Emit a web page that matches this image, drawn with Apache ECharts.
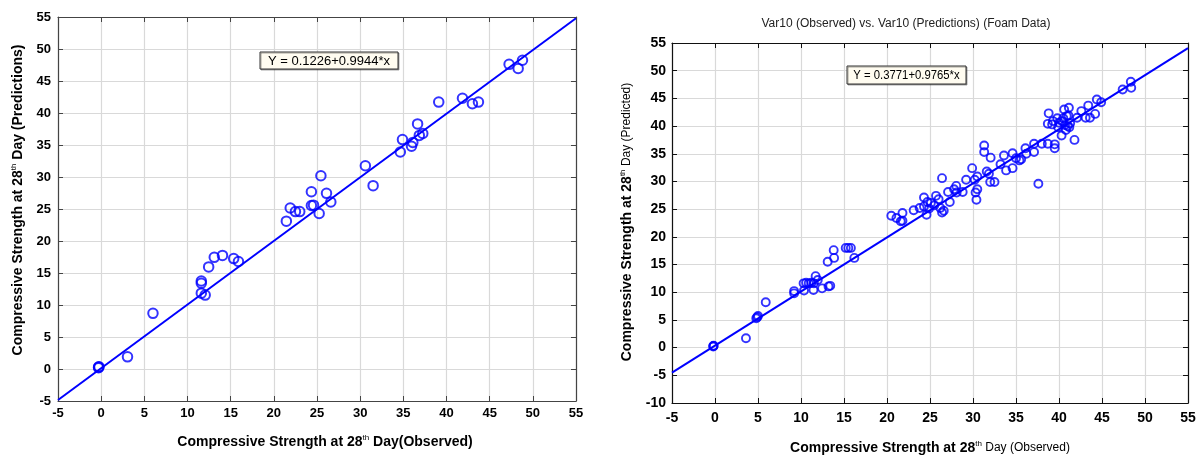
<!DOCTYPE html>
<html>
<head>
<meta charset="utf-8">
<script src="https://cdn.jsdelivr.net/npm/echarts@6/dist/echarts.min.js"></script>
<style>
html,body{margin:0;padding:0;background:#fff;}
#chart{width:1203px;height:459px;}
</style>
</head>
<body>
<div id="chart"></div>
<script>
// ---- Data ----
const leftObserved  = [-0.3,-0.3,-0.25,3.05,6.0,11.6,11.6,11.6,12.05,12.45,13.1,14.05,15.35,15.9,21.45,21.9,22.5,23.0,24.35,24.35,24.6,25.25,25.45,26.1,26.6,30.6,31.5,34.65,34.9,35.95,36.1,36.65,36.85,37.25,39.1,41.85,43.0,43.7,47.25,48.3,48.8];
const leftPredicted = [0.3,0.2,0.35,1.9,8.7,13.75,13.4,11.85,11.55,15.95,17.45,17.75,17.25,16.8,23.1,25.15,24.6,24.6,27.7,25.55,25.6,24.3,30.2,27.45,26.1,31.75,28.65,33.9,35.85,34.8,35.4,38.3,36.5,36.8,41.7,42.3,41.45,41.7,47.6,46.95,48.25];

const rightObserved  = [-0.2,-0.2,-0.15,3.6,4.8,5.0,4.9,5.9,9.2,9.2,10.3,10.6,10.9,11.2,11.5,10.35,11.45,11.7,11.95,12.45,13.2,13.4,13.1,13.8,13.85,15.2,15.5,15.8,16.2,
  20.5,21.1,21.6,21.8,21.8,23.1,23.8,24.3,24.3,24.6,24.7,24.9,25.1,25.5,25.7,26.0,26.2,26.4,26.4,26.6,27.1,27.3,27.8,28.05,28.1,28.8,29.2,29.9,30.2,30.3,30.5,30.5,30.4,
  31.3,31.3,31.6,31.85,32.05,32.0,32.5,33.2,33.6,33.85,34.6,34.6,35.0,35.4,35.6,36.1,36.2,37.1,37.1,37.6,38.0,38.7,
  38.8,38.7,39.2,39.5,39.5,39.8,39.9,40.3,40.35,40.6,40.8,40.9,41.15,41.0,41.2,41.8,42.1,42.6,43.1,43.4,43.6,44.2,44.4,44.9,47.4,48.35,48.4,39.3,40.0,40.5,41.3,40.7,41.1];
const rightPredicted = [0.3,0.2,0.35,1.7,5.3,5.7,5.5,8.2,9.8,10.2,11.6,11.7,11.6,11.7,11.6,10.3,10.4,12.9,12.2,10.7,11.05,11.15,15.5,17.6,16.2,18.0,18.0,18.0,16.2,
  23.8,23.4,22.8,24.3,22.9,24.8,25.2,27.1,25.5,24.0,26.3,25.1,26.1,25.7,27.4,26.8,25.2,30.6,24.4,24.7,28.1,26.3,28.6,29.2,28.0,28.1,30.3,32.4,30.3,28.0,30.9,28.6,26.7,
  36.5,35.3,31.8,31.4,34.3,29.9,29.9,33.1,34.7,32.0,35.1,32.4,34.2,33.8,34.0,36.0,35.0,36.8,35.3,29.6,36.8,36.8,
  42.3,40.4,40.3,36.7,36.0,41.4,39.8,38.3,40.9,43.0,39.3,41.8,43.3,40.0,39.8,37.5,41.5,42.7,41.5,43.7,41.5,42.2,44.8,44.3,46.6,48.0,46.9,40.9,40.6,41.4,40.5,40.2,41.9];

// regression fits shown in the boxes: [intercept, slope]
const leftFit  = [0.1226, 0.9944];
const rightFit = [0.3771, 0.9765];

// axis ranges: [min, max, interval]
const leftXRange  = [-5, 55, 5];
const leftYRange  = [-5, 55, 5];
const rightXRange = [-5, 55, 5];
const rightYRange = [-10, 55, 5];

// ---- Chart ----
const BLUE = '#0000ff';
const FONT = 'Arial, "Liberation Sans", sans-serif';

function pairs(xs, ys){ return xs.map((x,i)=>[x, ys[i]]); }
function fitLine(fit, range){ return [range[0], range[1]].map(x => [x, fit[0] + fit[1]*x]); }

function axis(grid, range, pos, frameColor, main, labelSize, margin){
  return {
    type:'value', gridIndex:grid, position:pos,
    min:range[0], max:range[1], interval:range[2],
    axisLine:{show:true, onZero:false, lineStyle:{color:frameColor, width:1.2}},
    axisTick:{show:true, inside:true, length:5, lineStyle:{color:frameColor, width:1}},
    axisLabel:{show:main, color:'#000', fontFamily:FONT, fontWeight:'bold', fontSize:labelSize, margin:margin},
    splitLine:{show:main, lineStyle:{color:'#d9d9d9', width:1.2}}
  };
}

const chart = echarts.init(document.getElementById('chart'), null, {renderer:'canvas'});

const richL = {
  b:{fontFamily:FONT, fontWeight:'bold', fontSize:14, lineHeight:16, fill:'#000', color:'#000'},
  s:{fontFamily:FONT, fontWeight:'normal', fontSize:8, lineHeight:9, verticalAlign:'top', fill:'#000', color:'#000'}
};
const richR = {
  b:{fontFamily:FONT, fontWeight:'bold', fontSize:14, lineHeight:16, fill:'#000', color:'#000'},
  s:{fontFamily:FONT, fontWeight:'normal', fontSize:8, lineHeight:9, verticalAlign:'top', fill:'#000', color:'#000'},
  n:{fontFamily:FONT, fontWeight:'normal', fontSize:12, lineHeight:16, fill:'#000', color:'#000'}
};

function txt(x, y, text, rich, rot){
  return {
    type:'text', x:x, y:y, rotation:rot||0, z:100,
    style:{text:text, rich:rich, align:'center', verticalAlign:'middle', textAlign:'center', textVerticalAlign:'middle', fill:'#000'}
  };
}

chart.setOption({
  animation:false,
  backgroundColor:'#fff',
  grid:[
    {left:58, top:17, width:518, height:384, show:false},
    {left:672, top:43, width:516, height:360, show:false}
  ],
  xAxis:[
    axis(0, leftXRange, 'bottom', '#444', true, 13, 6),
    axis(0, leftXRange, 'top', '#444', false, 13, 6),
    axis(1, rightXRange, 'bottom', '#111', true, 14, 8),
    axis(1, rightXRange, 'top', '#111', false, 14, 8)
  ],
  yAxis:[
    axis(0, leftYRange, 'left', '#444', true, 13, 7),
    axis(0, leftYRange, 'right', '#444', false, 13, 7),
    axis(1, rightYRange, 'left', '#111', true, 14, 6),
    axis(1, rightYRange, 'right', '#111', false, 14, 6)
  ],
  series:[
    {type:'line', xAxisIndex:0, yAxisIndex:0, data:fitLine(leftFit, leftXRange), symbol:'none',
     lineStyle:{color:BLUE, width:2}, z:2, silent:true},
    {type:'scatter', xAxisIndex:0, yAxisIndex:0, data:pairs(leftObserved, leftPredicted), symbol:'circle', symbolSize:9.5,
     itemStyle:{color:'rgba(0,0,0,0)', borderColor:BLUE, borderWidth:2}, z:3},
    {type:'line', xAxisIndex:2, yAxisIndex:2, data:fitLine(rightFit, rightXRange), symbol:'none',
     lineStyle:{color:BLUE, width:2}, z:2, silent:true},
    {type:'scatter', xAxisIndex:2, yAxisIndex:2, data:pairs(rightObserved, rightPredicted), symbol:'circle', symbolSize:8,
     itemStyle:{color:'rgba(0,0,0,0)', borderColor:BLUE, borderWidth:1.9}, z:3}
  ],
  graphic:[
    // left chart titles
    txt(325, 442, '{b|Compressive Strength at 28}{s|th}{b| Day(Observed)}', richL, 0),
    txt(18, 200, '{b|Compressive Strength at 28}{s|th}{b| Day (Predictions)}', richL, Math.PI/2),
    // left equation box
    {type:'rect', z:99, shape:{x:260, y:52, width:138, height:17},
     style:{fill:'#fffcf0', stroke:'#333', lineWidth:1, shadowColor:'rgba(0,0,0,0.35)', shadowOffsetX:1, shadowOffsetY:1}},
    {type:'text', z:100, x:329, y:61,
     style:{text:'Y = 0.1226+0.9944*x', font:'13px ' + FONT, fill:'#000', align:'center', verticalAlign:'middle', textAlign:'center', textVerticalAlign:'middle'}},
    // right chart title
    {type:'text', z:100, x:906, y:24,
     style:{text:'Var10 (Observed) vs. Var10 (Predictions) (Foam Data)', font:'12px ' + FONT, fill:'#222', align:'center', verticalAlign:'middle', textAlign:'center', textVerticalAlign:'middle'}},
    txt(930, 448, '{b|Compressive Strength at 28}{s|th}{n| Day (Observed)}', richR, 0),
    txt(627, 222, '{b|Compressive Strength at 28}{s|th}{n| Day (Predicted)}', richR, Math.PI/2),
    // right equation box
    {type:'rect', z:99, shape:{x:847, y:66, width:119, height:18},
     style:{fill:'#fffcf0', stroke:'#333', lineWidth:1, shadowColor:'rgba(0,0,0,0.35)', shadowOffsetX:1, shadowOffsetY:1}},
    {type:'text', z:100, x:906.5, y:75.5, scaleX:0.87,
     style:{text:'Y = 0.3771+0.9765*x', font:'13px ' + FONT, fill:'#000', align:'center', verticalAlign:'middle', textAlign:'center', textVerticalAlign:'middle'}}
  ]
});
</script>
</body>
</html>
